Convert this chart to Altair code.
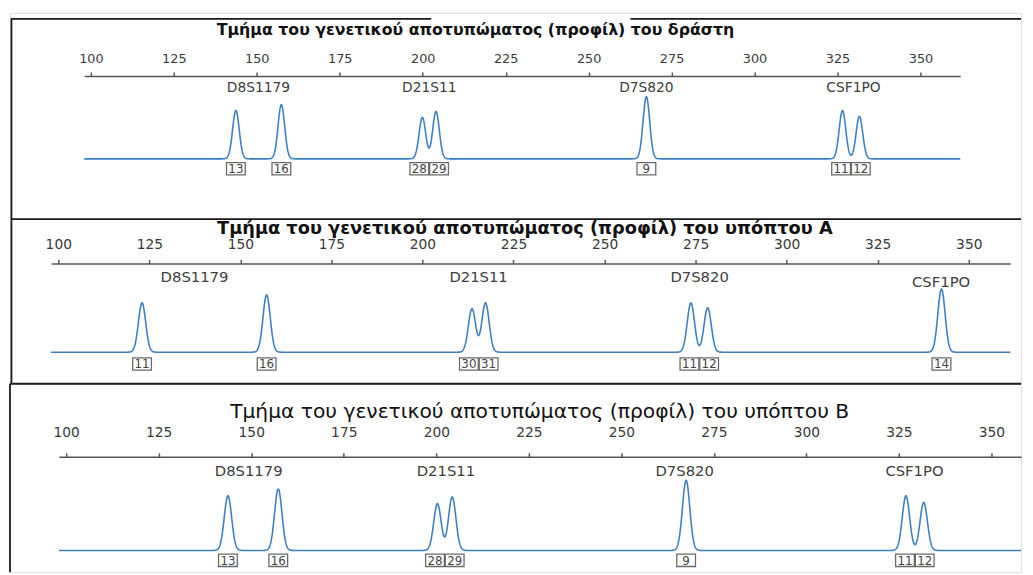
import altair as alt
import numpy as np
import pandas as pd

# ---------------- data ----------------
TITLES = [
    "Τμήμα του γενετικού αποτυπώματος (προφίλ) του δράστη",
    "Τμήμα του γενετικού αποτυπώματος (προφίλ) του υπόπτου Α",
    "Τμήμα του γενετικού αποτυπώματος (προφίλ) του υπόπτου Β",
]
LOCI = ["D8S1179", "D21S11", "D7S820", "CSF1PO"]
TICKS = [100, 125, 150, 175, 200, 225, 250, 275, 300, 325, 350]

offender_alleles = ["13", "16", "28", "29", "9", "11", "12"]
offender_size = [143.7, 157.4, 199.9, 204.0, 267.4, 326.5, 331.6]
offender_height = [980, 1100, 840, 960, 1260, 980, 860]
offender_locus_pos = [150.5, 202.0, 267.4, 329.8]

suspectA_alleles = ["11", "16", "30", "31", "11", "12", "14"]
suspectA_size = [123.0, 157.2, 213.6, 217.3, 273.7, 278.3, 342.5]
suspectA_height = [935, 1085, 822, 935, 935, 841, 1196]
suspectA_locus_pos = [137.4, 215.4, 276.1, 342.4]

suspectB_alleles = ["13", "16", "28", "29", "9", "11", "12"]
suspectB_size = [143.7, 157.3, 200.3, 204.3, 267.5, 326.9, 331.7]
suspectB_height = [980, 1100, 840, 960, 1260, 980, 860]
suspectB_locus_pos = [149.3, 202.6, 267.1, 329.2]

PEAK_SIGMA = 1.0
BLUE = "#3f80c2"
W = 1025
BOX_W_PX = 19
BOX_GAP_PX = 20

BOX = "M-1,-0.66L1,-0.66L1,0.66L-1,0.66Z"


def trace(sizes, heights, lo, hi):
    xs = np.round(np.arange(lo, hi + 0.001, 0.1), 2)
    ys = np.zeros_like(xs)
    for s, h in zip(sizes, heights):
        ys = ys + h * np.exp(-0.5 * ((xs - s) / PEAK_SIGMA) ** 2)
    return pd.DataFrame({"bp": xs, "rfu": ys})


def box_positions(sizes, px_per_unit):
    """Nudge neighbouring allele boxes apart so they do not overlap."""
    pos = list(sizes)
    min_sep = BOX_GAP_PX / px_per_unit
    for i in range(len(pos) - 1):
        d = pos[i + 1] - pos[i]
        if d < min_sep:
            push = (min_sep - d) / 2
            pos[i] -= push
            pos[i + 1] += push
    return pos


def one(d):
    return pd.DataFrame([d])


def panel(title, alleles, sizes, heights, locus_pos, c):
    xsc = alt.Scale(domain=c["xdom"], range=c["xrange"], nice=False, zero=False)
    ysc = alt.Scale(domain=[0, 1500], range=c["yrange"], nice=False, zero=False)
    ax = alt.Axis(
        orient="top", offset=-c["axis_y"], values=TICKS, format="d", title=None,
        grid=False, tickSize=4, tickWidth=1.5, tickColor="#555",
        domainColor="#555", domainWidth=1.5,
        labelFont="DejaVu Sans", labelFontSize=c["lfs"], labelColor="#3a3a3a",
        labelPadding=c["lp"], labelFlush=False, labelOverlap=False,
    )
    xe = alt.X("bp:Q", scale=xsc, axis=ax)
    layers = []
    for (x1, x2, y) in c["hlines"]:
        layers.append(alt.Chart(one({"k": 0})).mark_rule(color="#1a1a1a", strokeWidth=1.8).encode(
            x=alt.value(x1), x2=alt.value(x2), y=alt.value(y)))
    for (x, y1, y2) in c["vlines"]:
        layers.append(alt.Chart(one({"k": 0})).mark_rule(color="#1a1a1a", strokeWidth=1.8).encode(
            x=alt.value(x), y=alt.value(y1), y2=alt.value(y2)))
    layers.append(alt.Chart(one({"t": title})).mark_text(
        font="DejaVu Sans", fontSize=c["tfs"], fontWeight=c["tfw"], color="#111",
        align="center", baseline="middle").encode(
        x=alt.value(c["title_xy"][0]), y=alt.value(c["title_xy"][1]), text="t:N"))
    tr = trace(sizes, heights, c["xdom"][0], c["xdom"][1])
    layers.append(alt.Chart(tr).mark_line(color=BLUE, strokeWidth=1.6).encode(
        x=xe, y=alt.Y("rfu:Q", scale=ysc, axis=None)))
    for i, name in enumerate(LOCI):
        layers.append(alt.Chart(one({"bp": locus_pos[i], "locus": name})).mark_text(
            font="DejaVu Sans", fontSize=c["locfs"], color="#404040",
            align="center", baseline="middle").encode(
            x=xe, y=alt.value(c["locus_y"][i]), text="locus:N"))
    ppu = (c["xrange"][1] - c["xrange"][0]) / (c["xdom"][1] - c["xdom"][0])
    pk = pd.DataFrame({"bp": box_positions(sizes, ppu), "allele": alleles})
    layers.append(alt.Chart(pk).mark_point(
        shape=BOX, size=BOX_W_PX ** 2, filled=True, fill="white", stroke="#6a6a6a",
        strokeWidth=1.3, opacity=1).encode(x=xe, y=alt.value(c["box_y"])))
    layers.append(alt.Chart(pk).mark_text(
        font="DejaVu Sans", fontSize=c["boxfs"], color="#444",
        align="center", baseline="middle").encode(
        x=xe, y=alt.value(c["box_y"] + 0.5), text="allele:N"))
    return alt.layer(*layers).properties(width=W, height=c["H"])


cfg1 = dict(
    H=209, xdom=[98, 362], xrange=[75.3, 963.4], yrange=[148, 73], axis_y=64,
    lfs=13, lp=7, tfs=16, tfw="bold", title_xy=(472, 17),
    locfs=14, locus_y=[76, 76, 76, 76], box_y=158, boxfs=12,
    hlines=[(1, 427, 6), (629, 1025, 6)], vlines=[(1.5, 6, 209)],
)
cfg2 = dict(
    H=167, xdom=[98, 361.4], xrange=[41.6, 1014.1], yrange=[135, 54.75], axis_y=45,
    lfs=14, lp=8, tfs=18, tfw="bold", title_xy=(522, 10),
    locfs=15, locus_y=[59, 59, 59, 64], box_y=147, boxfs=12,
    hlines=[(1, 1025, 0)], vlines=[(1.5, 0, 167)],
)
cfg3 = dict(
    H=191, xdom=[98, 358], xrange=[49.5, 57 + 258 * 3.752], yrange=[169, 84.25], axis_y=74,
    lfs=14, lp=14, tfs=20.5, tfw="normal", title_xy=(545 - 8, 29),
    locfs=15, locus_y=[89, 89, 89, 89], box_y=179, boxfs=12,
    hlines=[(0, 1025, 0)], vlines=[(0, 0, 191)],
)

p1 = panel(TITLES[0], offender_alleles, offender_size, offender_height, offender_locus_pos, cfg1)
p2 = panel(TITLES[1], suspectA_alleles, suspectA_size, suspectA_height, suspectA_locus_pos, cfg2)
p3 = panel(TITLES[2], suspectB_alleles, suspectB_size, suspectB_height, suspectB_locus_pos, cfg3)

chart = alt.vconcat(p1, p2, p3, spacing=0, bounds="flush").properties(
    padding=0
).configure_view(stroke=None).configure(background="white")

chart.save("out.html", embed_options={"renderer": "svg", "actions": False})
